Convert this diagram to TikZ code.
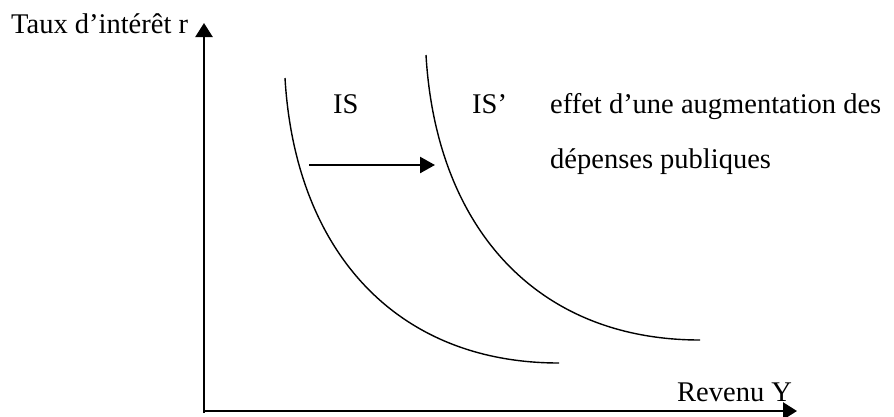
\documentclass[tikz,border=0pt]{standalone}
\usepackage{fontspec}
\setmainfont{Liberation Serif}
\usetikzlibrary{arrows.meta}
\begin{document}
\begin{tikzpicture}[x=1pt,y=-1pt,
  axisline/.style={line width=2.4pt,-{Triangle[length=14pt,width=17pt]}},
  iscurve/.style={line width=1.4pt},
  shiftarrow/.style={line width=2.4pt,-{Triangle[length=15pt,width=16pt]}},
  lbl/.style={anchor=base west,inner sep=0pt,font=\fontsize{28.5}{34}\selectfont}]
\useasboundingbox (0,0) rectangle (894,416);
% axes
\coordinate (o) at (204,413);
\coordinate (ytip) at (204,23);
\coordinate (xo) at (203,411);
\coordinate (xtip) at (797,411);
\draw[axisline] (o) -- (ytip);
\draw[axisline] (xo) -- (xtip);
% curves
\coordinate (is0) at (285,78);
\coordinate (is1) at (559,363);
\coordinate (isp0) at (426,55);
\coordinate (isp1) at (700,340);
\draw[iscurve] (is0) .. controls (295,250) and (395,363) .. (is1);
\draw[iscurve] (isp0) .. controls (436,227) and (536,340) .. (isp1);
% shift arrow
\coordinate (a0) at (309,165);
\coordinate (a1) at (435,165);
\draw[shiftarrow] (a0) -- (a1);
% labels
\node[lbl] (ylab) at (11,33) {Taux d’intérêt r};
\node[lbl] (xlab) at (677,401) {Revenu Y};
\node[lbl] (is) at (333,113) {IS};
\node[lbl] (isp) at (472,113) {IS’};
\node[lbl] (eff1) at (550,113) {effet d’une augmentation des};
\node[lbl] (eff2) at (550,168) {dépenses publiques};
\end{tikzpicture}
\end{document}
